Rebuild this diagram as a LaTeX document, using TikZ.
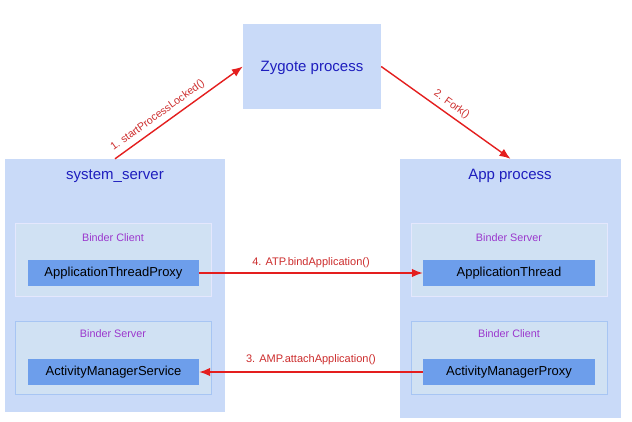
\documentclass[tikz,border=0pt]{standalone}
\usepackage{fontspec}
\setmainfont{Liberation Sans}
\usetikzlibrary{arrows.meta,positioning}

\definecolor{procfill}{RGB}{201,218,248}
\definecolor{groupfill}{RGB}{208,225,243}
\definecolor{compfill}{RGB}{109,158,235}
\definecolor{titleblue}{RGB}{30,30,190}
\definecolor{tagpurple}{RGB}{155,55,205}
\definecolor{callred}{RGB}{228,30,30}
\definecolor{calltext}{RGB}{205,45,45}

\begin{document}
\begin{tikzpicture}[x=1pt, y=-1pt,
    proc/.style={fill=procfill, inner sep=0pt},
    group/.style={fill=groupfill, draw=#1, line width=0.6pt, minimum width=196pt, minimum height=73pt, inner sep=0pt},
    comp/.style={fill=compfill, minimum width=171pt, minimum height=26pt, inner sep=0pt, font=\fontsize{13}{15}\selectfont},
    title/.style={text=titleblue, font=\fontsize{15}{18}\selectfont},
    tag/.style={text=tagpurple, font=\fontsize{10.8}{13}\selectfont},
    call/.style={draw=callred, line width=1.4pt, -{Latex[length=11pt, width=8.5pt]}},
    calllabel/.style={text=calltext, font=\fontsize{11}{13}\selectfont}
]

\useasboundingbox[fill=white] (0,0) rectangle (632,421);

% Processes
\node[proc, minimum width=138pt, minimum height=85pt] (zygote) at (312,66.5) {};
\node[title] (zygotetitle) at (312,68) {Zygote process};
\node[proc, minimum width=220pt, minimum height=253pt] (sysbox) at (115,285.5) {};
\node[title] (systitle) at (115,176) {system\_server};
\node[proc, minimum width=221pt, minimum height=259pt] (appbox) at (510.5,288.5) {};
\node[title] (apptitle) at (510,176) {App process};

% system_server side
\node[group={groupfill!70!blue!25}] (sysclient) at (113,259.5) {};
\node[tag] (sysclienttag) at (113,238) {Binder Client};
\node[comp] (atp) at (113.5,273) {ApplicationThreadProxy};
\node[group={compfill!60}] (sysserver) at (113,357.5) {};
\node[tag] (sysservertag) at (113,334) {Binder Server};
\node[comp] (ams) at (113.5,372) {ActivityManagerService};

% App process side
\node[group={groupfill!70!blue!25}] (appserver) at (509,259.5) {};
\node[tag] (appservertag) at (509,238) {Binder Server};
\node[comp, minimum width=172pt] (at) at (509,273) {ApplicationThread};
\node[group={compfill!60}] (appclient) at (509,357.5) {};
\node[tag] (appclienttag) at (509,334) {Binder Client};
\node[comp, minimum width=172pt] (amp) at (509,372) {ActivityManagerProxy};

% Calls
\draw[call] (sysbox.north) -- (zygote.west)
    node[calllabel, pos=0.38, sloped, above=1pt, font=\fontsize{10.6}{12}\selectfont] {1. startProcessLocked()};
\draw[call] (zygote.east) -- (appbox.north)
    node[calllabel, pos=0.5, sloped, above=1pt, font=\fontsize{10.6}{12}\selectfont] {2. Fork()};
\draw[call] (amp.west) -- (ams.east)
    node[calllabel, midway, above=3pt] {3. AMP.attachApplication()};
\draw[call] (atp.east) -- (at.west)
    node[calllabel, midway, above=1pt] {4. ATP.bindApplication()};

\end{tikzpicture}
\end{document}
